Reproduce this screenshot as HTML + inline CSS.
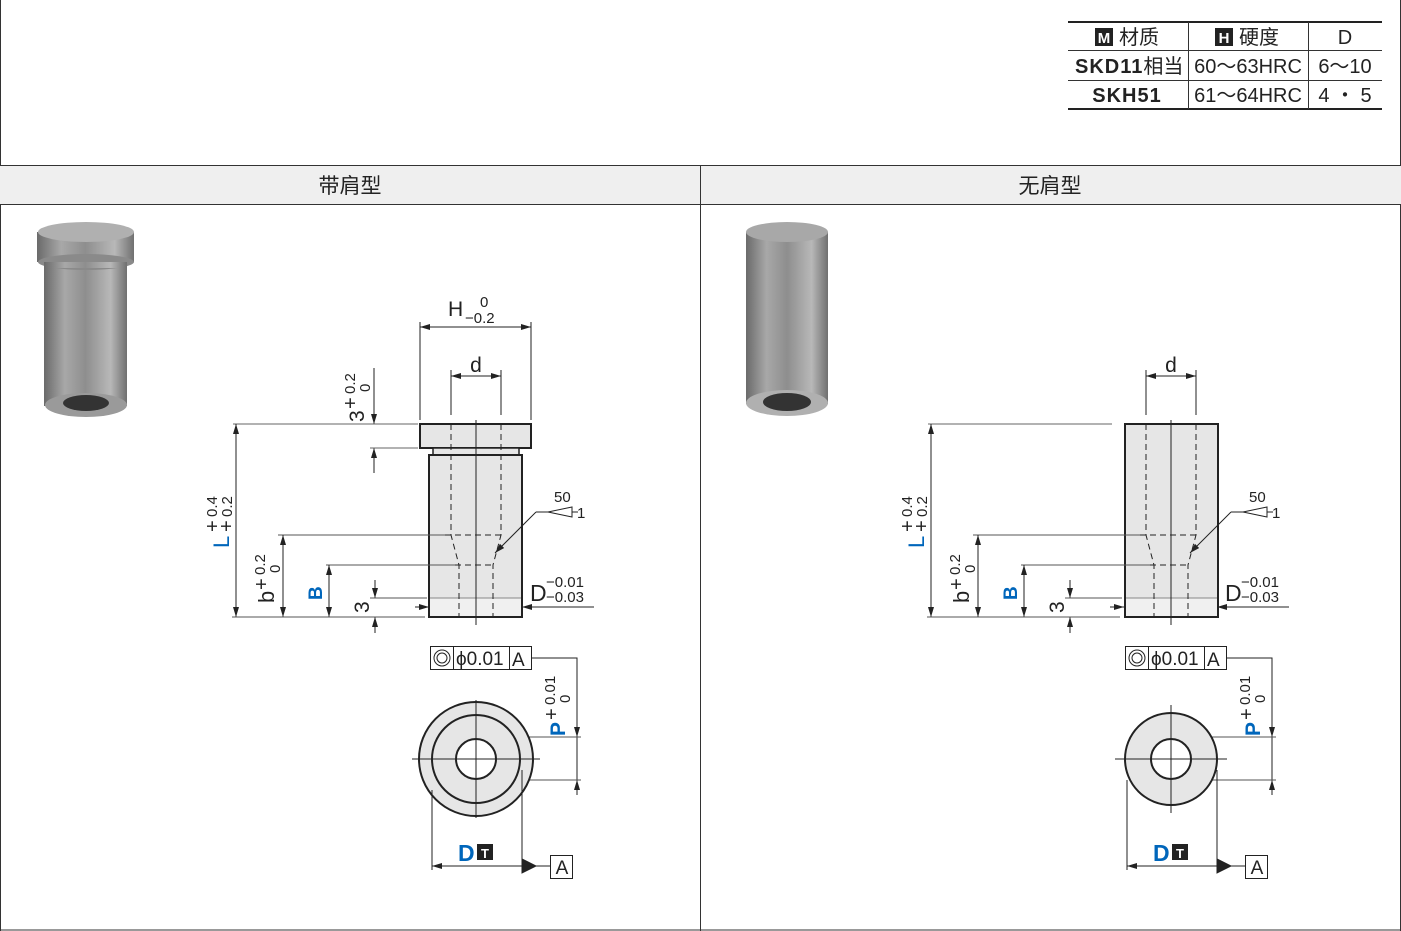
<!DOCTYPE html>
<html><head><meta charset="utf-8"><style>
html,body{margin:0;padding:0;background:#fff}
svg{display:block;font-family:"Liberation Sans","Noto Sans CJK SC",sans-serif}
</style></head><body>
<svg width="1401" height="931" viewBox="0 0 1401 931" xmlns="http://www.w3.org/2000/svg">
<defs>
<marker id="a" viewBox="0 0 10 6" refX="10" refY="3" markerWidth="10" markerHeight="6" orient="auto-start-reverse" markerUnits="userSpaceOnUse"><path d="M0,0L10,3L0,6z" fill="#222"/></marker>
<linearGradient id="met" x1="0" x2="1" y1="0" y2="0">
<stop offset="0" stop-color="#6a6a6a"/><stop offset="0.25" stop-color="#a8a8a8"/><stop offset="0.5" stop-color="#8e8e8e"/><stop offset="0.8" stop-color="#b8b8b8"/><stop offset="1" stop-color="#707070"/></linearGradient>
</defs>
<line x1="0.5" y1="0" x2="0.5" y2="931" stroke="#333"/>
<line x1="1400.5" y1="0" x2="1400.5" y2="931" stroke="#333"/>
<line x1="0" y1="930" x2="1401" y2="930" stroke="#333"/>
<rect x="0" y="165" width="1401" height="40" fill="#efefef"/>
<line x1="0" y1="165.5" x2="1401" y2="165.5" stroke="#333"/>
<line x1="0" y1="204.5" x2="1401" y2="204.5" stroke="#333"/>
<line x1="700.5" y1="165" x2="700.5" y2="931" stroke="#333"/>
<text x="350" y="193" font-size="21" text-anchor="middle" fill="#222">带肩型</text>
<text x="1050" y="193" font-size="21" text-anchor="middle" fill="#222">无肩型</text>

<g font-size="20" fill="#222">
<line x1="1068" y1="22" x2="1382" y2="22" stroke="#222" stroke-width="2"/>
<line x1="1068" y1="50.5" x2="1382" y2="50.5" stroke="#333"/>
<line x1="1068" y1="80.5" x2="1382" y2="80.5" stroke="#333"/>
<line x1="1068" y1="109" x2="1382" y2="109" stroke="#222" stroke-width="2"/>
<line x1="1188.5" y1="22" x2="1188.5" y2="109" stroke="#333"/>
<line x1="1308.5" y1="22" x2="1308.5" y2="109" stroke="#333"/>
<rect x="1095" y="28" width="18" height="18" fill="#222"/><text x="1104" y="43" font-size="15" fill="#fff" text-anchor="middle" font-weight="bold">M</text>
<text x="1119" y="44">材质</text>
<rect x="1215" y="28" width="18" height="18" fill="#222"/><text x="1224" y="43" font-size="15" fill="#fff" text-anchor="middle" font-weight="bold">H</text>
<text x="1239" y="44">硬度</text>
<text x="1345" y="44" text-anchor="middle">D</text>
<text x="1075" y="73" font-weight="bold" letter-spacing="1">SKD11<tspan font-weight="normal" letter-spacing="0">相当</tspan></text>
<text x="1127" y="102" font-weight="bold" text-anchor="middle" letter-spacing="1">SKH51</text>
<text x="1248" y="73" text-anchor="middle">60～63HRC</text>
<text x="1248" y="102" text-anchor="middle">61～64HRC</text>
<text x="1345" y="73" text-anchor="middle">6～10</text>
<text x="1345" y="102" text-anchor="middle">4 ・ 5</text>
</g>

<g>
<rect x="44" y="248" width="83" height="158" fill="url(#met)"/>
<ellipse cx="86" cy="405" rx="41" ry="12" fill="#9a9a9a"/>
<ellipse cx="86" cy="403" rx="23" ry="8" fill="#333"/>
<rect x="37" y="232" width="97" height="30" fill="url(#met)"/>
<ellipse cx="86" cy="262" rx="48" ry="8" fill="#8a8a8a"/>
<rect x="44" y="262" width="83" height="6" fill="url(#met)"/>
<ellipse cx="86" cy="232" rx="48" ry="10" fill="#b0b0b0"/>
</g>
<g>
<rect x="746" y="232" width="82" height="172" fill="url(#met)"/>
<ellipse cx="787" cy="232" rx="41" ry="10" fill="#a8a8a8"/>
<ellipse cx="787" cy="403" rx="41" ry="13" fill="#b0b0b0"/>
<ellipse cx="787" cy="402" rx="24" ry="9" fill="#333"/>
</g>

<g stroke="#222" fill="none" stroke-width="1">
<rect x="420" y="424" width="111" height="24" fill="#e6e6e6" stroke-width="2"/>
<rect x="433" y="448" width="86" height="7" fill="#e6e6e6" stroke-width="1.5"/>
<rect x="429" y="455" width="93" height="162" fill="#e6e6e6" stroke-width="2"/>
<rect x="430" y="598" width="91" height="18" fill="#f0f0f0" stroke="none"/>
<line x1="430" y1="598" x2="521" y2="598" stroke="#888"/>
<line x1="420" y1="322" x2="420" y2="420"/><line x1="531" y1="322" x2="531" y2="420"/>
<line x1="420" y1="327" x2="531" y2="327" marker-start="url(#a)" marker-end="url(#a)"/>
<line x1="374" y1="368" x2="374" y2="424" marker-end="url(#a)"/>
<line x1="374" y1="473" x2="374" y2="448" marker-end="url(#a)"/>
<line x1="233" y1="424" x2="418" y2="424" stroke="#666"/>
<line x1="370" y1="448" x2="418" y2="448" stroke="#666"/>
</g>
<g fill="#222" font-size="21">
<text x="448" y="316">H</text>
<text x="480" y="307" font-size="15">0</text>
<text x="465" y="323" font-size="15">−0.2</text>
<text transform="translate(364,422) rotate(-90)">3</text>
<text transform="translate(357,409) rotate(-90)" font-size="20">+</text>
<text transform="translate(355,394) rotate(-90)" font-size="15">0.2</text>
<text transform="translate(370,392) rotate(-90)" font-size="15">0</text>
</g>

<g id="sh">
<g stroke="#222" fill="none" stroke-width="1">
<line x1="476" y1="420" x2="476" y2="625"/>
<path d="M451,424V535L459,565V617M501,424V535L493,565V617M445,535H501M455,565H494" stroke-dasharray="6,4"/>
<line x1="451" y1="370" x2="451" y2="415"/><line x1="501" y1="370" x2="501" y2="415"/>
<line x1="451" y1="376" x2="501" y2="376" marker-start="url(#a)" marker-end="url(#a)"/>
<line x1="236" y1="424" x2="236" y2="617" marker-start="url(#a)" marker-end="url(#a)"/>
<line x1="278" y1="535" x2="445" y2="535" stroke="#555"/>
<line x1="283" y1="535" x2="283" y2="617" marker-start="url(#a)" marker-end="url(#a)"/>
<line x1="326" y1="565" x2="455" y2="565" stroke="#555"/>
<line x1="329" y1="565" x2="329" y2="617" marker-start="url(#a)" marker-end="url(#a)"/>
<line x1="375" y1="580" x2="375" y2="598" marker-end="url(#a)"/>
<line x1="375" y1="633" x2="375" y2="617" marker-end="url(#a)"/>
<line x1="370" y1="598" x2="427" y2="598" stroke="#555"/>
<line x1="232" y1="617" x2="425" y2="617" stroke="#555"/>
<line x1="415" y1="607" x2="429" y2="607" marker-end="url(#a)"/>
<line x1="594" y1="607" x2="522" y2="607" marker-end="url(#a)"/>
<line x1="536" y1="512" x2="495" y2="553" marker-end="url(#a)"/>
<path d="M536,512H548L572,507V517L548,512 M572,512H578"/>
</g>
<g fill="#222" font-size="21">
<text x="476" y="372" text-anchor="middle">d</text>
<text transform="translate(229,548) rotate(-90)" fill="#0066bb" font-size="22">L</text>
<text transform="translate(219,532) rotate(-90)" font-size="20">+</text>
<text transform="translate(233,532) rotate(-90)" font-size="20">+</text>
<text transform="translate(217,517) rotate(-90)" font-size="15">0.4</text>
<text transform="translate(232,517) rotate(-90)" font-size="15">0.2</text>
<text transform="translate(274,603) rotate(-90)" font-size="22">b</text>
<text transform="translate(268,590) rotate(-90)" font-size="20">+</text>
<text transform="translate(265,575) rotate(-90)" font-size="15">0.2</text>
<text transform="translate(280,573) rotate(-90)" font-size="15">0</text>
<text transform="translate(322,600) rotate(-90)" fill="#0066bb" font-weight="bold" font-size="19">B</text>
<text transform="translate(369,613) rotate(-90)">3</text>
<text x="530" y="601" font-size="23">D</text>
<text x="546" y="587" font-size="15">−0.01</text>
<text x="546" y="602" font-size="15">−0.03</text>
<text x="554" y="502" font-size="15">50</text>
<text x="577" y="518" font-size="15">1</text>
</g>
<g stroke="#222" fill="none">
<rect x="430.5" y="646.5" width="101" height="23"/>
<line x1="453.5" y1="646" x2="453.5" y2="670"/><line x1="509.5" y1="646" x2="509.5" y2="670"/>
<circle cx="442" cy="658" r="8"/><circle cx="442" cy="658" r="5"/>
<path d="M531,658H577V795" stroke-width="1"/>
<line x1="577" y1="720" x2="577" y2="737" marker-end="url(#a)"/>
<line x1="577" y1="795" x2="577" y2="780" marker-end="url(#a)"/>
<line x1="476" y1="737" x2="581" y2="737" stroke="#555"/>
<line x1="476" y1="780" x2="581" y2="780" stroke="#555"/>
</g>
<g fill="#222">
<text x="456" y="665" font-size="19">ϕ0.01</text>
<text x="512" y="666" font-size="19">A</text>
<text transform="translate(565,736) rotate(-90)" fill="#0066bb" font-weight="bold" font-size="21">P</text>
<text transform="translate(558,720) rotate(-90)" font-size="20">+</text>
<text transform="translate(555,705) rotate(-90)" font-size="15">0.01</text>
<text transform="translate(570,703) rotate(-90)" font-size="15">0</text>
</g>
<g stroke="#222" fill="none">
<rect x="550.5" y="855.5" width="22" height="23"/>
<path d="M522,859L536,866L522,873Z" fill="#222"/>
<line x1="536" y1="866" x2="550" y2="866"/>
</g>
<text x="562" y="874" font-size="19" fill="#222" text-anchor="middle">A</text>
<text x="458" y="861" font-size="23" fill="#0066bb" font-weight="bold">D</text>
<rect x="477" y="844" width="16" height="16" fill="#222"/>
<text x="485" y="858" font-size="13" fill="#fff" font-weight="bold" text-anchor="middle">T</text>
</g>

<g stroke="#222" fill="none">
<circle cx="476" cy="759" r="57" fill="#e6e6e6" stroke-width="2"/>
<circle cx="476" cy="759" r="44" stroke-width="2"/>
<circle cx="476" cy="759" r="20" fill="#fff" stroke-width="2"/>
<line x1="412" y1="759" x2="540" y2="759"/><line x1="476" y1="700" x2="476" y2="818"/>
<line x1="432" y1="790" x2="432" y2="870"/><line x1="522" y1="770" x2="522" y2="870"/>
<line x1="432" y1="866" x2="522" y2="866" marker-start="url(#a)"/>
</g>

<g transform="translate(695,0)">
<g stroke="#222" fill="none">
<rect x="430" y="424" width="93" height="193" fill="#e6e6e6" stroke-width="2"/>
<rect x="431" y="598" width="91" height="18" fill="#f0f0f0" stroke="none"/>
<line x1="431" y1="598" x2="522" y2="598" stroke="#888"/>
<line x1="233" y1="424" x2="417" y2="424" stroke="#666"/>
</g>
<use href="#sh"/>
<g stroke="#222" fill="none">
<circle cx="476" cy="759" r="46" fill="#e6e6e6" stroke-width="2"/>
<circle cx="476" cy="759" r="20" fill="#fff" stroke-width="2"/>
<line x1="420" y1="759" x2="532" y2="759"/><line x1="476" y1="705" x2="476" y2="813"/>
<line x1="432" y1="780" x2="432" y2="870"/><line x1="522" y1="770" x2="522" y2="870"/>
<line x1="432" y1="866" x2="522" y2="866" marker-start="url(#a)"/>
</g>
</g>
</svg>
</body></html>
